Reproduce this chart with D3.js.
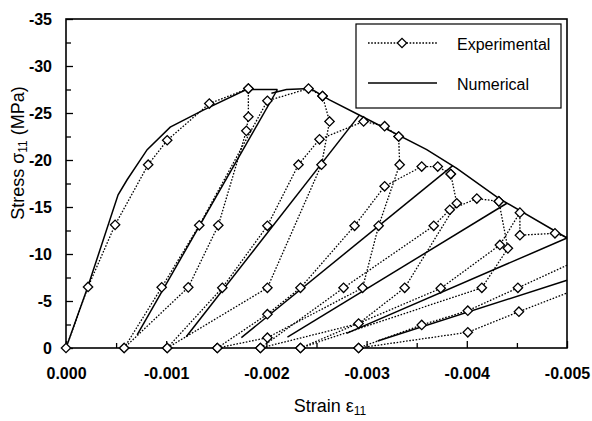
<!DOCTYPE html>
<html>
<head>
<meta charset="utf-8">
<script src="https://cdn.jsdelivr.net/npm/d3@7"></script>
<style>
  body { margin: 0; background: #fff; }
  text { font-family: "Liberation Sans", Arial, sans-serif; }
</style>
</head>
<body>
<svg id="graph"></svg>
<script>
// ticks
var strainTicks = [0, -0.001, -0.002, -0.003, -0.004, -0.005];
var strainMinor = [-0.0005, -0.0015, -0.0025, -0.0035, -0.0045];
var stressTicks = [0, -5, -10, -15, -20, -25, -30, -35];
var stressMinor = [-2.5, -7.5, -12.5, -17.5, -22.5, -27.5, -32.5];

// experimental curves [strain, stress (MPa)]
var expLoading = [[0,0],[-0.00022,-6.5],[-0.00049,-13.1],[-0.00082,-19.5],[-0.00101,-22.1],[-0.00143,-26.0],[-0.00182,-27.6]];
var expUnload1 = [[-0.00182,-27.6],[-0.00182,-24.6],[-0.00180,-23.1],[-0.00152,-13.05],[-0.00122,-6.45],[-0.00058,0]];
var expReload1 = [[-0.00058,0],[-0.000955,-6.45],[-0.00133,-13.05],[-0.00201,-26.3],[-0.00242,-27.6],[-0.00256,-26.8]];
var expUnload2 = [[-0.00256,-26.8],[-0.00263,-24.1],[-0.00255,-19.5],[-0.00201,-6.4],[-0.00101,0]];
var expReload2 = [[-0.00101,0],[-0.00156,-6.4],[-0.00201,-13.0],[-0.00232,-19.5],[-0.00253,-22.2],[-0.00297,-24.1],[-0.00318,-23.6],[-0.00332,-22.5]];
var expUnload3 = [[-0.00332,-22.5],[-0.00333,-19.5],[-0.00312,-13.0],[-0.00296,-6.4],[-0.00201,-1.1],[-0.00151,0]];
var expReload3 = [[-0.00151,0],[-0.00201,-3.6],[-0.00234,-6.4],[-0.00288,-13.0],[-0.00318,-17.2],[-0.00355,-19.3],[-0.00371,-19.3],[-0.00384,-18.5]];
var expUnload4 = [[-0.00384,-18.5],[-0.00390,-15.4],[-0.00338,-6.4],[-0.00292,-2.6],[-0.00194,0]];
var expReload4 = [[-0.00194,0],[-0.00277,-6.4],[-0.00367,-13.0],[-0.00383,-14.7],[-0.00410,-15.9],[-0.00432,-15.6]];
var expUnload5 = [[-0.00432,-15.6],[-0.00441,-10.6],[-0.00415,-6.4],[-0.00234,0]];
var expReload5 = [[-0.00234,0],[-0.00374,-6.35],[-0.00433,-10.96],[-0.00453,-14.4],[-0.00453,-12.0],[-0.00488,-12.2],[-0.005,-11.8]];
var expUnload6 = [[-0.005,-8.8],[-0.00451,-6.4],[-0.00401,-3.97],[-0.00355,-2.45],[-0.00292,0]];
var expReload6 = [[-0.00292,0],[-0.00401,-1.67],[-0.00452,-3.86],[-0.005,-5.85]];

// numerical curves
var numEnvelope1 = [[0,0],[-0.000217,-6.49],[-0.00052,-16.3],[-0.00061,-17.9],[-0.00081,-21.1],[-0.00104,-23.5],[-0.00137,-25.3],[-0.00180,-27.5],[-0.00211,-27.5]];
var numEnvelope2 = [[-0.00205,-27.1],[-0.00220,-27.5],[-0.00244,-27.6],[-0.00263,-26.4],[-0.00296,-24.6],[-0.00360,-21.1],[-0.00390,-19.1],[-0.00433,-15.85],[-0.005,-11.7]];
var numUnload1 = [[-0.00211,-27.5],[-0.00071,-1.4]];
var numUnload2 = [[-0.00293,-24.8],[-0.00120,-1.2]];
var numUnload3 = [[-0.00386,-19.4],[-0.00175,-1.1]];
var numUnload4 = [[-0.00440,-15.4],[-0.00221,-1.15]];
var numUnload5 = [[-0.005,-11.7],[-0.00280,-1.55]];
var numUnload6 = [[-0.005,-7.2],[-0.00311,-0.75]];

var expCurves = [expLoading, expUnload1, expReload1, expUnload2, expReload2, expUnload3,
                 expReload3, expUnload4, expReload4, expUnload5, expReload5, expUnload6, expReload6];
var numCurves = [numEnvelope1, numEnvelope2, numUnload1, numUnload2, numUnload3, numUnload4, numUnload5, numUnload6];

var w = 592, h = 421;
var svg = d3.select("#graph").attr("width", w).attr("height", h);

var x = d3.scaleLinear().domain([0, -0.005]).range([66, 567]);
var y = d3.scaleLinear().domain([0, -35]).range([348, 19]);

var line = d3.line()
    .x(function(d){ return x(d[0]); })
    .y(function(d){ return y(d[1]); });

// axes (ticks point inside the frame)
svg.append("g")
    .attr("transform", "translate(66,0)")
    .call(d3.axisLeft(y).tickValues(stressMinor).tickSize(-5).tickFormat(""));
svg.append("g")
    .attr("transform", "translate(0,348)")
    .call(d3.axisBottom(x).tickValues(strainMinor).tickSize(-5).tickFormat(""));

svg.append("g")
    .attr("class", "yaxis")
    .attr("transform", "translate(66,0)")
    .call(d3.axisLeft(y).tickValues(stressTicks).tickSize(-7).tickPadding(14)
        .tickFormat(function(d){ return String(d); }));
svg.append("g")
    .attr("class", "xaxis")
    .attr("transform", "translate(0,348)")
    .call(d3.axisBottom(x).tickValues(strainTicks).tickSize(-7).tickPadding(20)
        .tickFormat(function(d){ return d.toFixed(3); }));

svg.selectAll(".domain").remove();
svg.selectAll(".tick line").attr("stroke", "#000").attr("stroke-width", 1.3);
svg.selectAll(".yaxis text, .xaxis text")
    .attr("font-size", 16).attr("font-weight", "bold").attr("fill", "#000")
    .style("font-family", "'Liberation Sans', Arial, sans-serif");

// frame
svg.append("rect")
    .attr("x", 66).attr("y", 19)
    .attr("width", 501).attr("height", 329)
    .attr("fill", "none").attr("stroke", "#000").attr("stroke-width", 1.6);

// numerical = solid
svg.append("g").selectAll("path")
    .data(numCurves).enter().append("path")
    .attr("d", line)
    .attr("fill", "none").attr("stroke", "#000").attr("stroke-width", 1.5);

// experimental = dotted
svg.append("g").selectAll("path")
    .data(expCurves).enter().append("path")
    .attr("d", line)
    .attr("fill", "none").attr("stroke", "#000")
    .attr("stroke-width", 1.3).attr("stroke-dasharray", "1.6,1.6");

// diamonds (not on points that sit on the right border)
var pts = [];
expCurves.forEach(function(c){
    c.forEach(function(p){ if (p[0] > -0.005) pts.push(p); });
});
var diamond = d3.symbol().type(d3.symbolSquare).size(44);
svg.append("g").selectAll("path")
    .data(pts).enter().append("path")
    .attr("d", diamond)
    .attr("transform", function(d){ return "translate(" + x(d[0]) + "," + y(d[1]) + ") rotate(45)"; })
    .attr("fill", "#fff").attr("stroke", "#000").attr("stroke-width", 1.3);

// axis titles
var xt = svg.append("text")
    .attr("x", 330).attr("y", 412)
    .attr("text-anchor", "middle")
    .attr("font-size", 18);
xt.append("tspan").text("Strain \u03b5");
xt.append("tspan").attr("font-size", 12).attr("dy", 3).text("11");

var yt = svg.append("text")
    .attr("text-anchor", "middle")
    .attr("transform", "translate(24,153) rotate(-90)")
    .attr("font-size", 18);
yt.append("tspan").text("Stress \u03c3");
yt.append("tspan").attr("font-size", 12).attr("dy", 3).text("11");
yt.append("tspan").attr("dy", -3).text(" (MPa)");

// legend
var lg = svg.append("g");
lg.append("rect")
    .attr("x", 356).attr("y", 24).attr("width", 205).attr("height", 84)
    .attr("fill", "#fff").attr("stroke", "#000").attr("stroke-width", 1.2);
lg.append("line")
    .attr("x1", 368).attr("x2", 437).attr("y1", 43).attr("y2", 43)
    .attr("stroke", "#000").attr("stroke-width", 1.3).attr("stroke-dasharray", "1.6,1.6");
lg.append("path")
    .attr("d", diamond)
    .attr("transform", "translate(402,43) rotate(45)")
    .attr("fill", "#fff").attr("stroke", "#000").attr("stroke-width", 1.3);
lg.append("line")
    .attr("x1", 368).attr("x2", 437).attr("y1", 83).attr("y2", 83)
    .attr("stroke", "#000").attr("stroke-width", 1.3);
lg.append("text").attr("x", 457).attr("y", 50).attr("font-size", 16).text("Experimental");
lg.append("text").attr("x", 457).attr("y", 90).attr("font-size", 16).text("Numerical");
</script>
</body>
</html>
